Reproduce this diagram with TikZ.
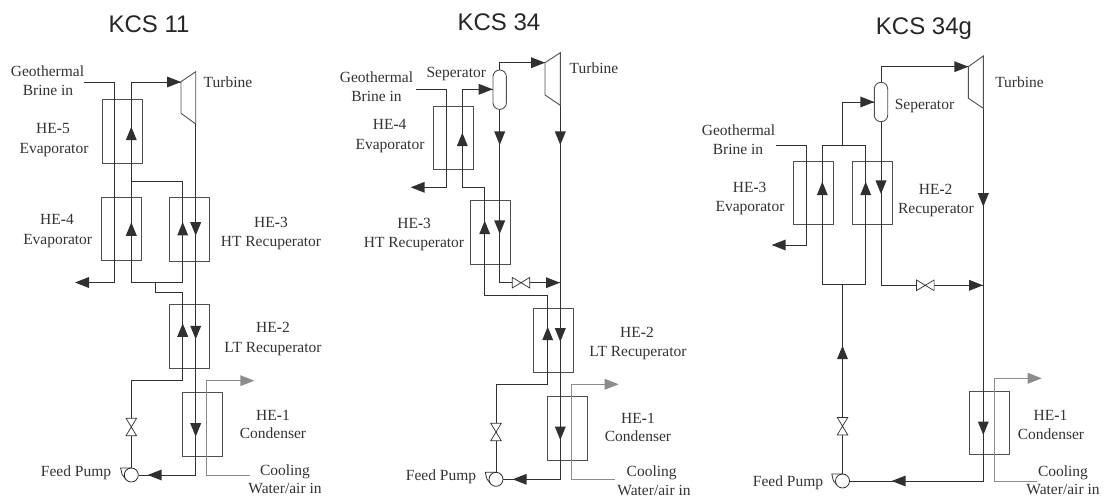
\documentclass[tikz,border=0pt]{standalone}
\usepackage{fontspec}
\setmainfont{Liberation Serif}
\newfontfamily\ttlfont{Liberation Sans}
\definecolor{pipe}{HTML}{303030}
\definecolor{hxc}{HTML}{505050}
\definecolor{cool}{HTML}{8C8C8C}
\definecolor{txt}{HTML}{333333}
\newcommand\tipR[2]{\fill[pipe] (#1,#2) -- ++(-14,-5.5) -- ++(0,11) -- cycle;}
\newcommand\tipL[2]{\fill[pipe] (#1,#2) -- ++(14,-5.5) -- ++(0,11) -- cycle;}
\newcommand\tipU[2]{\fill[pipe] (#1,#2) -- ++(-5.5,13.5) -- ++(11,0) -- cycle;}
\newcommand\tipD[2]{\fill[pipe] (#1,#2) -- ++(-5.5,-13.5) -- ++(11,0) -- cycle;}
\newcommand\tipG[2]{\fill[cool] (#1,#2) -- ++(-14,-5.5) -- ++(0,11) -- cycle;}
\newcommand\hyp{\textbf{-}}
\tikzset{
  x=1pt,y=-1pt,
  hx/.style={draw=hxc,line width=0.9pt,minimum width=40pt,minimum height=63.5pt,inner sep=0pt},
  pipeline/.style={draw=pipe,line width=0.9pt,line join=miter},
  coolline/.style={draw=cool,line width=0.9pt},
  lbl/.style={anchor=base,inner sep=0pt,text=txt,font=\fontsize{15.5}{18}\selectfont},
  ttl/.style={anchor=base,inner sep=0pt,text=black!85,font=\ttlfont\fontsize{24}{28}\selectfont},
  sep/.style={draw=hxc,line width=0.9pt,fill=white,rounded corners=6.6pt,minimum width=13.4pt,minimum height=39.4pt,inner sep=0pt},
  pumpc/.style={circle,draw=pipe,line width=0.8pt,minimum size=14pt,inner sep=0pt},
  vvalve/.pic={\draw[draw=pipe,line width=0.7pt,fill=white] (-5.3,-8.8) -- (5.3,-8.8) -- (-5.3,8.8) -- (5.3,8.8) -- cycle;},
  hvalve/.pic={\draw[draw=pipe,line width=0.7pt,fill=white] (-8.8,-5.3) -- (-8.8,5.3) -- (8.8,-5.3) -- (8.8,5.3) -- cycle;},
  pumptail/.pic={\draw[draw=pipe,line width=0.8pt] (0,-7) -- (-10.7,-7) -- (-9.2,-0.5) -- (-5.6,4.2);},
}
\begin{document}
\begin{tikzpicture}
\useasboundingbox (0,0) rectangle (1106,497);
% ---------- titles
\node[ttl] (t1) at (149,32.3) {KCS 11};
\node[ttl] (t2) at (499,31) {KCS 34};
\node[ttl] (t3) at (924,34.3) {KCS 34g};

% ========== KCS 11
\node[hx] (a5) at (122.2,131.5) {};
\node[hx] (a4) at (121,229) {};
\node[hx] (a3) at (189,229.5) {};
\node[hx] (a2) at (189,336.3) {};
\node[hx] (a1) at (202.5,424.5) {};
\coordinate (abs) at (83.5,82);
\coordinate (ab1) at (114,82);
\coordinate (ab2) at (114,282.5);
\coordinate (abe) at (76,282.5);
\coordinate (atin) at (181,82);
\coordinate (al1) at (131.3,82);
\coordinate (aj1) at (131.3,181.7);
\coordinate (ar1) at (182.7,181.7);
\coordinate (al2) at (131.3,282.5);
\coordinate (ar2) at (182.7,282.5);
\coordinate (aj2) at (155.3,282.5);
\coordinate (aj3) at (155.3,292.3);
\coordinate (ar3) at (182.7,292.3);
\coordinate (ar4) at (182.7,380);
\coordinate (al3) at (131.3,380);
\coordinate (atout) at (195.7,124);
\coordinate (ac) at (195.7,475);
\coordinate (agin) at (250,475);
\coordinate (ag1) at (206.7,475);
\coordinate (ag2) at (206.7,380.7);
\coordinate (age) at (250,380.7);
\coordinate (avv) at (131.3,427);
\node[pumpc] (ap) at (131.3,475) {};
\draw[pipeline] (abs) -- (ab1) -- (ab2) -- (abe);
\draw[pipeline] (atin) -- (al1) -- (al2) -- (ar2) -- (ar1) -- (aj1);
\draw[pipeline] (aj2) -- (aj3) -- (ar3) -- (ar4) -- (al3) -- (ap);
\draw[pipeline] (atout) -- (ac) -- (ap);
\draw[coolline] (agin) -- (ag1) -- (ag2) -- (age);
\draw[draw=hxc,line width=0.9pt] (181,81.7) -- (195.7,71.7) -- (195.7,124) -- (181,113.3) -- cycle;
\pic at (avv) {vvalve};
\pic at (ap) {pumptail};
\tipR{181}{82}\tipL{75}{282.5}\tipU{131.3}{126.7}\tipU{131.3}{222.3}\tipU{182.7}{222}\tipD{195.7}{235.7}
\tipU{182.7}{323.3}\tipD{195.7}{339.3}\tipD{195.7}{436.7}\tipL{147.7}{475}\tipG{254.3}{380.7}
\node[lbl] (ag) at (47.5,77) {Geothermal};
\node[lbl] (ab) at (48,96) {Brine in};
\node[lbl] (at) at (228,88) {Turbine};
\node[lbl] (ah5) at (53,134) {HE\hyp5};
\node[lbl] (ae5) at (54,153.3) {Evaporator};
\node[lbl] (ah4) at (57,225) {HE\hyp4};
\node[lbl] (ae4) at (57.7,244) {Evaporator};
\node[lbl] (ah3) at (271,228) {HE\hyp3};
\node[lbl] (ae3) at (271,247) {HT Recuperator};
\node[lbl] (ah2) at (273,332.7) {HE\hyp2};
\node[lbl] (ae2) at (273,352) {LT Recuperator};
\node[lbl] (ah1) at (273,420) {HE\hyp1};
\node[lbl] (ae1) at (273,438) {Condenser};
\node[lbl] (ac1) at (285,475) {Cooling};
\node[lbl] (ac2) at (285,493) {Water/air in};
\node[lbl] (af) at (76,476.7) {Feed Pump};

% ========== KCS 34
\node[hx] (b4) at (453,138) {};
\node[hx] (b3) at (490.7,232.7) {};
\node[hx] (b2) at (553.7,340.2) {};
\node[hx] (b1) at (567.3,428.3) {};
\node[sep] (bs) at (499.7,89.7) {};
\coordinate (bbs) at (416,89.3);
\coordinate (bb1) at (446.7,89.3);
\coordinate (bb2) at (446.7,187.3);
\coordinate (bbe) at (412,187.3);
\coordinate (bl1) at (462.3,187.3);
\coordinate (bl2) at (462.3,89.3);
\coordinate (bl3) at (484.7,187.3);
\coordinate (bl4) at (484.7,295);
\coordinate (bl5) at (547.7,295);
\coordinate (bl6) at (547.7,384.3);
\coordinate (bl7) at (496,384.3);
\coordinate (bt1) at (499.7,62.7);
\coordinate (btin) at (545,62.7);
\coordinate (btout) at (560.3,105.3);
\coordinate (bc) at (560.3,479.3);
\coordinate (bm1) at (499.7,282.7);
\coordinate (bm2) at (560.3,282.7);
\coordinate (bhv) at (521,282.7);
\coordinate (bvv) at (496,432);
\coordinate (bgin) at (615,479.3);
\coordinate (bg1) at (571.7,479.3);
\coordinate (bg2) at (571.7,384.3);
\coordinate (bge) at (614,384.3);
\node[pumpc] (bp) at (496,479.3) {};
\draw[pipeline] (bbs) -- (bb1) -- (bb2) -- (bbe);
\draw[pipeline] (bs.west |- bl2) -- (bl2) -- (bl1) -- (bl3) -- (bl4) -- (bl5) -- (bl6) -- (bl7) -- (bp);
\draw[pipeline] (bs.north) -- (bt1) -- (btin);
\draw[pipeline] (bs.south) -- (bm1) -- (bm2);
\draw[pipeline] (btout) -- (bc) -- (bp);
\draw[coolline] (bgin) -- (bg1) -- (bg2) -- (bge);
\draw[draw=hxc,line width=0.9pt] (545,62.7) -- (560.3,52.7) -- (560.3,105.3) -- (545,95) -- cycle;
\pic at (bvv) {vvalve};
\pic at (bhv) {hvalve};
\pic at (bp) {pumptail};
\tipR{492.7}{89.3}\tipR{545}{62.7}\tipL{410.7}{187.3}\tipD{499.7}{145}\tipD{560.3}{145}\tipU{462.3}{132.7}
\tipU{484.7}{220.7}\tipD{499.7}{234}\tipR{560}{282.7}\tipU{547.7}{326.7}\tipD{560.3}{341.7}\tipD{560.3}{440}
\tipL{512.7}{479.3}\tipG{618.7}{384.3}
\node[lbl] (bgt) at (376.5,82.7) {Geothermal};
\node[lbl] (bbr) at (376.5,101.7) {Brine in};
\node[lbl] (bsl) at (456.3,77.3) {Seperator};
\node[lbl] (btl) at (594,73.3) {Turbine};
\node[lbl] (bh4) at (389.7,130) {HE\hyp4};
\node[lbl] (be4) at (390,149.3) {Evaporator};
\node[lbl] (bh3) at (414.2,228.3) {HE\hyp3};
\node[lbl] (be3) at (414,247.7) {HT Recuperator};
\node[lbl] (bh2) at (637,337.3) {HE\hyp2};
\node[lbl] (be2) at (638,356) {LT Recuperator};
\node[lbl] (bh1) at (638,423.3) {HE\hyp1};
\node[lbl] (be1) at (638,441.7) {Condenser};
\node[lbl] (bc1) at (651.7,476) {Cooling};
\node[lbl] (bc2) at (654,495) {Water/air in};
\node[lbl] (bf) at (441,480) {Feed Pump};

% ========== KCS 34g
\node[hx] (c3) at (813.3,193.2) {};
\node[hx] (c2) at (872.2,193.2) {};
\node[hx] (c1) at (989.3,422.7) {};
\node[sep] (cs) at (881,102) {};
\coordinate (cbs) at (776,145.7);
\coordinate (cb1) at (806.7,145.7);
\coordinate (cb2) at (806.7,245);
\coordinate (cbe) at (773,245);
\coordinate (cl1) at (822.3,284.3);
\coordinate (cl2) at (822.3,145.7);
\coordinate (cr1) at (865.7,145.7);
\coordinate (cr2) at (865.7,284.3);
\coordinate (cm1) at (842.5,145.7);
\coordinate (cm2) at (842.5,102);
\coordinate (cm3) at (842.5,284.3);
\coordinate (ct1) at (881,66.7);
\coordinate (ctin) at (968.3,66.7);
\coordinate (ctout) at (983.3,108.3);
\coordinate (cc) at (983.3,481);
\coordinate (cd1) at (881,285.3);
\coordinate (cd2) at (983.3,285.3);
\coordinate (chv) at (925.3,285.3);
\coordinate (cvv) at (842.5,426.2);
\coordinate (cgin) at (1036.7,481);
\coordinate (cg1) at (994.7,481);
\coordinate (cg2) at (994.7,378.3);
\coordinate (cge) at (1037,378.3);
\node[pumpc] (cp) at (842.5,481) {};
\draw[pipeline] (cbs) -- (cb1) -- (cb2) -- (cbe);
\draw[pipeline] (cl1) -- (cl2) -- (cr1) -- (cr2) -- cycle;
\draw[pipeline] (cm1) -- (cm2) -- (cs.west |- cm2);
\draw[pipeline] (cm3) -- (cp);
\draw[pipeline] (cs.north) -- (ct1) -- (ctin);
\draw[pipeline] (cs.south) -- (cd1) -- (cd2);
\draw[pipeline] (ctout) -- (cc) -- (cp);
\draw[coolline] (cgin) -- (cg1) -- (cg2) -- (cge);
\draw[draw=hxc,line width=0.9pt] (968.3,66.7) -- (983.3,56) -- (983.3,108.3) -- (968.3,98.3) -- cycle;
\pic at (cvv) {vvalve};
\pic at (chv) {hvalve};
\pic at (cp) {pumptail};
\tipR{874.3}{102}\tipR{968.3}{66.7}\tipL{771.7}{245}\tipU{822.3}{181.7}\tipU{865.7}{181.7}\tipD{881}{194}
\tipD{983.3}{206.7}\tipR{983}{285.3}\tipU{842.5}{345.7}\tipD{983.3}{435}\tipL{891.7}{481}\tipG{1041.7}{378.3}
\node[lbl] (cgt) at (738.5,135.7) {Geothermal};
\node[lbl] (cbr) at (738,155) {Brine in};
\node[lbl] (csl) at (924.5,109.3) {Seperator};
\node[lbl] (ctl) at (1019.5,88) {Turbine};
\node[lbl] (ch3) at (749.7,192.3) {HE\hyp3};
\node[lbl] (ce3) at (750,211.7) {Evaporator};
\node[lbl] (ch2) at (935.7,194.3) {HE\hyp2};
\node[lbl] (ce2) at (936,213.3) {Recuperator};
\node[lbl] (ch1) at (1050.5,420) {HE\hyp1};
\node[lbl] (ce1) at (1051,439) {Condenser};
\node[lbl] (cc1) at (1063,476) {Cooling};
\node[lbl] (cc2) at (1063,494.3) {Water/air in};
\node[lbl] (cf) at (788,486.7) {Feed Pump};
\end{tikzpicture}
\end{document}
